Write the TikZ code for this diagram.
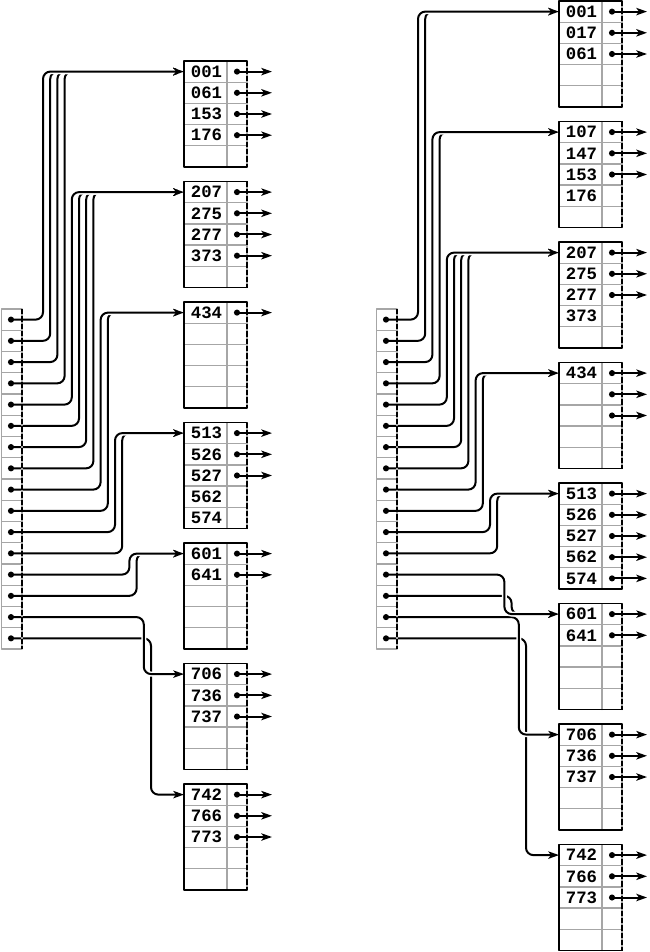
\documentclass[tikz,border=0pt]{standalone}
\usepackage{fontspec}
\newfontfamily\keyfont{Liberation Mono}
\usetikzlibrary{arrows.meta}

\begin{document}
\begin{tikzpicture}[line cap=round,line join=round,x=0.75pt,y=-0.75pt,
    tip/.style={-{Stealth[length=8pt,width=5.5pt,inset=2pt]}},
    link/.style={tip,line width=1.5pt,rounded corners=5.5pt,
      preaction={draw=white,line width=3.8pt,arrows=-}},
    ptr/.style={tip,line width=1.5pt},
    grid/.style={draw=black!35,line width=1pt},
    frame/.style={draw=black,line width=1.2pt},
    dashedge/.style={draw=black,line width=1.1pt,line cap=butt,dash pattern=on 4pt off 1.5pt},
    key/.style={font=\keyfont\bfseries\fontsize{13}{13}\selectfont,inner sep=0pt}]
\useasboundingbox (0,0) rectangle (649,952);

% directory entries (left depth 4, right depth 4)
\foreach \s/\dx in {L/0,R/375}
  \foreach \i in {0,...,15} {
    \coordinate (\s d\i) at (\dx+11,319.6+21.25*\i);
    \coordinate (\s t\i) at (\dx+43+7.2*\i,319.6+21.25*\i);
  }

% bucket entry points
\foreach \b/\bx/\top in {L1/184/61,L2/184/181.5,L3/184/302,L4/184/422.5,L5/184/543,L6/184/663.5,L7/184/784,
    R1/559/1,R2/559/121.5,R3/559/242,R4/559/362.5,R5/559/483,R6/559/603.5,R7/559/724,R8/559/844.5}
  \coordinate (\b) at (\bx,\top+10.6);

% directory to buckets
\foreach \i/\b in {15/L7,14/L6,13/L5,12/L5,11/L4,10/L4,9/L3,8/L3,7/L2,6/L2,5/L2,4/L2,3/L1,2/L1,1/L1,0/L1}
  \draw[link] (Ld\i) -- (Lt\i) |- (\b);
\foreach \i/\b in {15/R8,14/R7,13/R6,12/R6,11/R5,10/R5,9/R4,8/R4,7/R3,6/R3,5/R3,4/R3,3/R2,2/R2,1/R1,0/R1}
  \draw[link] (Rd\i) -- (Rt\i) |- (\b);

% directories
\foreach \s/\dx in {L/0,R/375} {
  \foreach \i in {0,...,15} {
    \draw[grid] (\dx+1.5,309+21.25*\i) rectangle (\dx+22,330.25+21.25*\i);
    \fill (\s d\i) circle[radius=2.3pt];
  }
  \draw[dashedge] (\dx+22,309) -- (\dx+22,649);
}

% buckets
\foreach \b/\bx/\top/\keys/\np in {
    L1/184/61/{001,061,153,176}/4, L2/184/181.5/{207,275,277,373}/4,
    L3/184/302/{434}/1, L4/184/422.5/{513,526,527,562,574}/3,
    L5/184/543/{601,641}/2, L6/184/663.5/{706,736,737}/3,
    L7/184/784/{742,766,773}/3,
    R1/559/1/{001,017,061}/3, R2/559/121.5/{107,147,153,176}/3,
    R3/559/242/{207,275,277,373}/3, R4/559/362.5/{434}/3,
    R5/559/483/{513,526,527,562,574}/5, R6/559/603.5/{601,641}/2,
    R7/559/724/{706,736,737}/3, R8/559/844.5/{742,766,773}/3} {
  \foreach \r in {1,...,4}
    \draw[grid] (\bx,\top+21.2*\r) -- (\bx+63,\top+21.2*\r);
  \draw[grid] (\bx+43,\top) -- (\bx+43,\top+106);
  \draw[grid] (\bx+63,\top) -- (\bx+63,\top+106);
  \draw[frame] (\bx+63,\top) -- (\bx,\top) -- (\bx,\top+106) -- (\bx+63,\top+106);
  \draw[dashedge] (\bx+63,\top) -- (\bx+63,\top+106);
  \foreach \k [count=\r] in \keys
    \node[key] (\b-k\r) at (\bx+22.5,\top+21.2*\r-10.6) {\k};
  \foreach \r in {1,...,\np} {
    \coordinate (\b-p\r) at (\bx+53,\top+21.2*\r-10.6);
    \coordinate (\b-q\r) at (\bx+88,\top+21.2*\r-10.6);
    \draw[ptr] (\b-p\r) -- (\b-q\r);
    \fill (\b-p\r) circle[radius=2.3pt];
  }
}
\end{tikzpicture}
\end{document}
